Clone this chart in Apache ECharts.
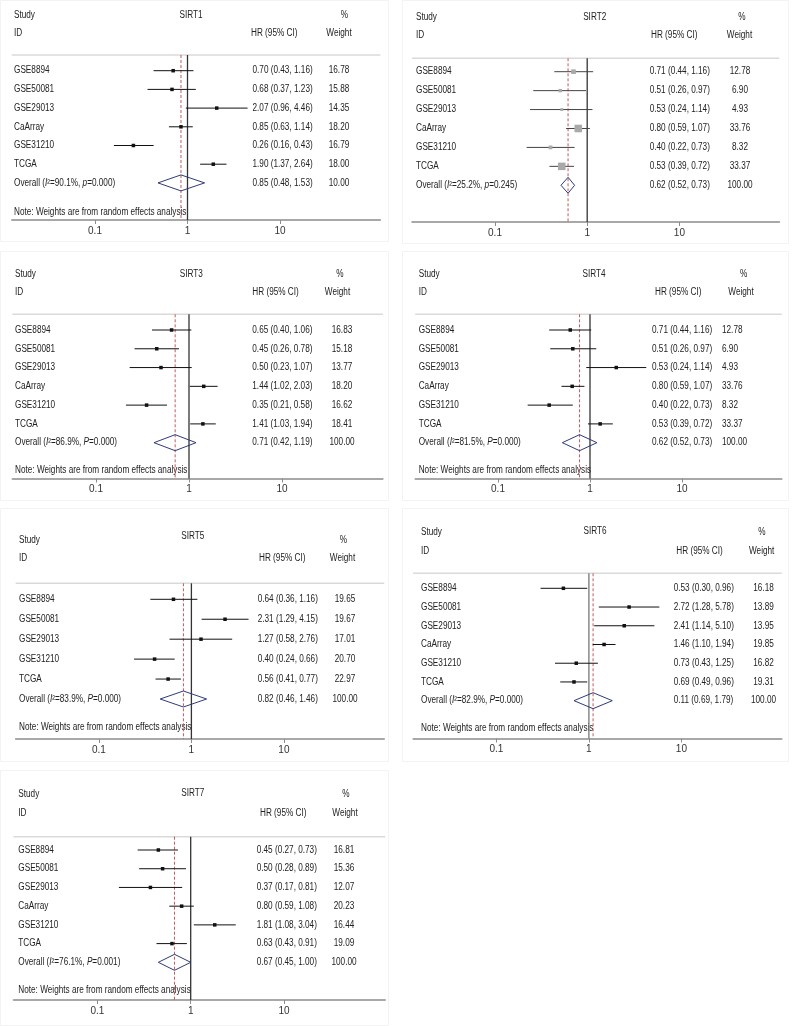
<!DOCTYPE html>
<html><head><meta charset="utf-8">
<script src="https://cdn.jsdelivr.net/npm/echarts@6/dist/echarts.min.js"></script>
<style>html,body{margin:0;padding:0;background:#fff}#c{width:794px;height:1026px}</style>
</head><body><div id="c"></div>
<script>
// ---------------- data ----------------
const studies6 = ['GSE8894','GSE50081','GSE29013','CaArray','GSE31210','TCGA'];
const studies5 = ['GSE8894','GSE50081','GSE29013','GSE31210','TCGA'];
const tickValues = [0.1, 1, 10];
const tickLabels = ['0.1', '1', '10'];

const sirt1Est = [0.70,0.68,2.07,0.85,0.26,1.90];
const sirt1Lo  = [0.43,0.37,0.96,0.63,0.16,1.37];
const sirt1Hi  = [1.16,1.23,4.46,1.14,0.43,2.64];
const sirt1Wt  = [16.78,15.88,14.35,18.20,16.79,18.00];
const sirt1Overall = [0.85,0.48,1.53];
const sirt1OverallWt = 10.00;
const sirt1Het = ['90.1%','p','0.000'];

const sirt2Est = [0.71,0.51,0.53,0.80,0.40,0.53];
const sirt2Lo  = [0.44,0.26,0.24,0.59,0.22,0.39];
const sirt2Hi  = [1.16,0.97,1.14,1.07,0.73,0.72];
const sirt2Wt  = [12.78,6.90,4.93,33.76,8.32,33.37];
const sirt2Overall = [0.62,0.52,0.73];
const sirt2OverallWt = 100.00;
const sirt2Het = ['25.2%','p','0.245'];

const sirt3Est = [0.65,0.45,0.50,1.44,0.35,1.41];
const sirt3Lo  = [0.40,0.26,0.23,1.02,0.21,1.03];
const sirt3Hi  = [1.06,0.78,1.07,2.03,0.58,1.94];
const sirt3Wt  = [16.83,15.18,13.77,18.20,16.62,18.41];
const sirt3Overall = [0.71,0.42,1.19];
const sirt3OverallWt = 100.00;
const sirt3Het = ['86.9%','P','0.000'];

// SIRT4: printed numbers
const sirt4Est = [0.71,0.51,0.53,0.80,0.40,0.53];
const sirt4Lo  = [0.44,0.26,0.24,0.59,0.22,0.39];
const sirt4Hi  = [1.16,0.97,1.14,1.07,0.73,0.72];
const sirt4Wt  = [12.78,6.90,4.93,33.76,8.32,33.37];
const sirt4Overall = [0.62,0.52,0.73];
const sirt4OverallWt = 100.00;
const sirt4Het = ['81.5%','P','0.000'];
// SIRT4: marks as drawn in the picture
const sirt4PlotEst = [0.61,0.65,1.93,0.64,0.36,1.29];
const sirt4PlotLo  = [0.36,0.37,0.91,0.49,0.21,0.95];
const sirt4PlotHi  = [1.03,1.17,4.09,0.87,0.65,1.77];
const sirt4PlotOverall = [0.77,0.50,1.19];

const sirt5Est = [0.64,2.31,1.27,0.40,0.56];
const sirt5Lo  = [0.36,1.29,0.58,0.24,0.41];
const sirt5Hi  = [1.16,4.15,2.76,0.66,0.77];
const sirt5Wt  = [19.65,19.67,17.01,20.70,22.97];
const sirt5Overall = [0.82,0.46,1.46];
const sirt5OverallWt = 100.00;
const sirt5Het = ['83.9%','P','0.000'];

const sirt6Est = [0.53,2.72,2.41,1.46,0.73,0.69];
const sirt6Lo  = [0.30,1.28,1.14,1.10,0.43,0.49];
const sirt6Hi  = [0.96,5.78,5.10,1.94,1.25,0.96];
const sirt6Wt  = [16.18,13.89,13.95,19.85,16.82,19.31];
const sirt6Overall = [0.11,0.69,1.79];
const sirt6OverallWt = 100.00;
const sirt6Het = ['82.9%','P','0.000'];
const sirt6PlotOverall = [1.11,0.69,1.79];

const sirt7Est = [0.45,0.50,0.37,0.80,1.81,0.63];
const sirt7Lo  = [0.27,0.28,0.17,0.59,1.08,0.43];
const sirt7Hi  = [0.73,0.89,0.81,1.08,3.04,0.91];
const sirt7Wt  = [16.81,15.36,12.07,20.23,16.44,19.09];
const sirt7Overall = [0.67,0.45,1.00];
const sirt7OverallWt = 100.00;
const sirt7Het = ['76.1%','P','0.001'];

const noteText = 'Note: Weights are from random effects analysis';

const panels = [
  {title:'SIRT1', studies:studies6, est:sirt1Est, lo:sirt1Lo, hi:sirt1Hi, wt:sirt1Wt, pEst:sirt1Est, pLo:sirt1Lo, pHi:sirt1Hi, overall:sirt1Overall, pOverall:sirt1Overall, overallWt:sirt1OverallWt, het:sirt1Het, note:true, weighted:false},
  {title:'SIRT2', studies:studies6, est:sirt2Est, lo:sirt2Lo, hi:sirt2Hi, wt:sirt2Wt, pEst:sirt2Est, pLo:sirt2Lo, pHi:sirt2Hi, overall:sirt2Overall, pOverall:sirt2Overall, overallWt:sirt2OverallWt, het:sirt2Het, note:false, weighted:true},
  {title:'SIRT3', studies:studies6, est:sirt3Est, lo:sirt3Lo, hi:sirt3Hi, wt:sirt3Wt, pEst:sirt3Est, pLo:sirt3Lo, pHi:sirt3Hi, overall:sirt3Overall, pOverall:sirt3Overall, overallWt:sirt3OverallWt, het:sirt3Het, note:true, weighted:false},
  {title:'SIRT4', studies:studies6, est:sirt4Est, lo:sirt4Lo, hi:sirt4Hi, wt:sirt4Wt, pEst:sirt4PlotEst, pLo:sirt4PlotLo, pHi:sirt4PlotHi, overall:sirt4Overall, pOverall:sirt4PlotOverall, overallWt:sirt4OverallWt, het:sirt4Het, note:true, weighted:false},
  {title:'SIRT5', studies:studies5, est:sirt5Est, lo:sirt5Lo, hi:sirt5Hi, wt:sirt5Wt, pEst:sirt5Est, pLo:sirt5Lo, pHi:sirt5Hi, overall:sirt5Overall, pOverall:sirt5Overall, overallWt:sirt5OverallWt, het:sirt5Het, note:true, weighted:false},
  {title:'SIRT6', studies:studies6, est:sirt6Est, lo:sirt6Lo, hi:sirt6Hi, wt:sirt6Wt, pEst:sirt6Est, pLo:sirt6Lo, pHi:sirt6Hi, overall:sirt6Overall, pOverall:sirt6PlotOverall, overallWt:sirt6OverallWt, het:sirt6Het, note:true, weighted:false},
  {title:'SIRT7', studies:studies6, est:sirt7Est, lo:sirt7Lo, hi:sirt7Hi, wt:sirt7Wt, pEst:sirt7Est, pLo:sirt7Lo, pHi:sirt7Hi, overall:sirt7Overall, pOverall:sirt7Overall, overallWt:sirt7OverallWt, het:sirt7Het, note:true, weighted:false}
];

// ---------------- layout ----------------
const layouts = [
  {one:187.5, dec:92.5, axisY:220,   sep:55,    row0:70.7,  step:18.7,  headY:15.3,  idY:33.7,  titleY:15.3,  noteY:212,   studyX:14,    hrX:252.5, hrHX:251,   wtX:339,   wtAlign:'center', pctX:344.5, wtHX:339,   titleX:191,   nullColor:'#333', box:[0.5,0.5,388,241]},
  {one:587.2, dec:92.2, axisY:222,   sep:58.3,  row0:71.7,  step:18.93, headY:17.3,  idY:35.7,  titleY:17.3,  noteY:null,  studyX:416,   hrX:649.7, hrHX:651,   wtX:740,   wtAlign:'center', pctX:742,   wtHX:739.5, titleX:594.7, nullColor:'#333', box:[402.5,0.5,386,243]},
  {one:189,   dec:93,   axisY:478.5, sep:314.3, row0:330,   step:18.78, headY:274,   idY:292.7, titleY:274,   noteY:470.7, studyX:15,    hrX:252.3, hrHX:252.3, wtX:342,   wtAlign:'center', pctX:340,   wtHX:337.5, titleX:191.3, nullColor:'#333', box:[0.5,251.5,388,249]},
  {one:590,   dec:92,   axisY:478.5, sep:314.3, row0:330,   step:18.78, headY:274,   idY:292.7, titleY:274,   noteY:470.7, studyX:418.7, hrX:652,   hrHX:655,   wtX:722,   wtAlign:'left',   pctX:743.7, wtHX:741,   titleX:594,   nullColor:'#333', box:[402.5,251.5,386,249]},
  {one:191.4, dec:92.5, axisY:739,   sep:583.3, row0:599.3, step:19.94, headY:540,   idY:558.3, titleY:536.7, noteY:727.3, studyX:19,    hrX:257.7, hrHX:259,   wtX:345,   wtAlign:'center', pctX:343.3, wtHX:342.5, titleX:192.8, nullColor:'#333', box:[0.5,508.5,388,253]},
  {one:588.9, dec:92.5, axisY:738.5, sep:573.3, row0:588.3, step:18.73, headY:532.3, idY:551,   titleY:531.7, noteY:728.3, studyX:421,   hrX:673.7, hrHX:676.3, wtX:763.5, wtAlign:'center', pctX:762,   wtHX:761.7, titleX:595,   nullColor:'#777', box:[402.5,508.5,386,253]},
  {one:190.7, dec:93.3, axisY:1000,  sep:836.7, row0:850,   step:18.72, headY:794.3, idY:813.3, titleY:793.3, noteY:990,   studyX:18.3,  hrX:256.7, hrHX:260,   wtX:344,   wtAlign:'center', pctX:346,   wtHX:345,   titleX:192.8, nullColor:'#333', box:[0.5,770.5,388,255]}
];

const LOG_MIN = -1.9, LOG_MAX = 2.085;
const FF = '"Liberation Sans", Arial, Helvetica, sans-serif';
const FS = 10, SX = 0.82, TXT = '#222';
const lg = Math.log10;
const tickLogs = tickValues.map(v => lg(v));

function txt(x, y, text, align, rich) {
  const style = {text: text, x: 0, y: 0, fontSize: FS, fontFamily: FF, fill: TXT,
                 align: align || 'left', verticalAlign: 'middle'};
  if (rich) style.rich = rich;
  return {type: 'text', x: x, y: y, scaleX: SX, silent: true, style: style};
}
function hrText(e, l, h) { return e.toFixed(2) + ' (' + l.toFixed(2) + ', ' + h.toFixed(2) + ')'; }

const grids = [], xAxes = [], yAxes = [], series = [], graphics = [];

panels.forEach((P, i) => {
  const L = layouts[i];
  grids.push({left: L.one - 1.9 * L.dec, top: L.sep, width: (LOG_MAX - LOG_MIN) * L.dec,
              height: L.axisY - L.sep, containLabel: false, outerBoundsMode: 'none'});
  xAxes.push({
    gridIndex: i, type: 'value', min: LOG_MIN, max: LOG_MAX,
    axisLine: {show: true, onZero: false, lineStyle: {color: '#8c8c8c', width: 1.5}},
    axisTick: {show: true, customValues: tickLogs, length: 4, lineStyle: {color: '#8c8c8c', width: 1}},
    axisLabel: {show: true, customValues: tickLogs, margin: 6, fontSize: 10,
      fontFamily: '"Liberation Sans Narrow", "Liberation Sans", Arial, sans-serif', color: '#333',
      formatter: v => { const k = tickLogs.findIndex(t => Math.abs(t - v) < 1e-6); return k >= 0 ? tickLabels[k] : ''; }},
    splitLine: {show: false}
  });
  yAxes.push({gridIndex: i, type: 'value', inverse: true,
              min: (L.sep - L.row0) / L.step, max: (L.axisY - L.row0) / L.step, show: false});

  const nRows = P.studies.length;

  // reference lines: separator, null line (HR=1), dashed overall line
  series.push({
    type: 'custom', xAxisIndex: i, yAxisIndex: i, z: 1, silent: true,
    encode: {x: 0, y: 1},
    data: [[lg(P.pOverall[0]), 0]],
    renderItem: (params, api) => {
      const cs = params.coordSys;
      const x1 = api.coord([0, 0])[0];
      const xd = api.coord([api.value(0), 0])[0];
      return {type: 'group', children: [
        {type: 'line', shape: {x1: cs.x, y1: cs.y, x2: cs.x + cs.width, y2: cs.y}, style: {stroke: '#dadada', lineWidth: 1.5}},
        {type: 'line', shape: {x1: xd, y1: cs.y, x2: xd, y2: cs.y + cs.height}, style: {stroke: '#c25a5a', lineWidth: 1, lineDash: [3, 2]}},
        {type: 'line', shape: {x1: x1, y1: cs.y, x2: x1, y2: cs.y + cs.height}, style: {stroke: L.nullColor, lineWidth: 1.3}}
      ]};
    }
  });

  // studies
  series.push({
    type: 'custom', xAxisIndex: i, yAxisIndex: i, z: 2, silent: true,
    encode: {x: [0, 1, 2], y: 3},
    data: P.pEst.map((e, k) => [lg(e), lg(P.pLo[k]), lg(P.pHi[k]), k]),
    renderItem: (params, api) => {
      const k = params.dataIndex;
      const r = api.value(3);
      const pe = api.coord([api.value(0), r]);
      const pl = api.coord([api.value(1), r]);
      const ph = api.coord([api.value(2), r]);
      const y = pe[1];
      const s = P.weighted ? 1.3 * Math.sqrt(P.wt[k]) : 3.5;
      const children = [
        {type: 'line', shape: {x1: pl[0], y1: y, x2: ph[0], y2: y}, style: {stroke: P.weighted ? '#444' : '#111', lineWidth: 1}},
        {type: 'rect', shape: {x: pe[0] - s / 2, y: y - s / 2, width: s, height: s}, style: {fill: P.weighted ? '#a9a9a9' : '#111'}},
        txt(L.studyX, y, P.studies[k]),
        txt(L.hrX, y, hrText(P.est[k], P.lo[k], P.hi[k])),
        txt(L.wtX, y, P.wt[k].toFixed(2), L.wtAlign)
      ];
      return {type: 'group', children: children};
    }
  });

  // overall diamond
  series.push({
    type: 'custom', xAxisIndex: i, yAxisIndex: i, z: 3, silent: true,
    encode: {x: [0, 1, 2], y: 3},
    data: [[lg(P.pOverall[0]), lg(P.pOverall[1]), lg(P.pOverall[2]), nRows]],
    renderItem: (params, api) => {
      const r = api.value(3);
      const c = api.coord([api.value(0), r]);
      const l = api.coord([api.value(1), r]);
      const h = api.coord([api.value(2), r]);
      const y = c[1], hh = 8;
      const rich = {it: {fontStyle: 'italic', fontSize: FS, fontFamily: FF, fill: TXT}};
      const label = 'Overall ({it|I}\u00B2=' + P.het[0] + ', {it|' + P.het[1] + '}=' + P.het[2] + ')';
      return {type: 'group', children: [
        {type: 'polygon', shape: {points: [[l[0], y], [c[0], y - hh], [h[0], y], [c[0], y + hh]]},
         style: {fill: 'none', stroke: '#2f3a78', lineWidth: 1}},
        txt(L.studyX, y, label, 'left', rich),
        txt(L.hrX, y, hrText(P.overall[0], P.overall[1], P.overall[2])),
        txt(L.wtX, y, P.overallWt.toFixed(2), L.wtAlign)
      ]};
    }
  });

  // panel frame and header texts
  graphics.push({type: 'rect', silent: true, z: -1, shape: {x: L.box[0], y: L.box[1], width: L.box[2], height: L.box[3]},
                 style: {fill: 'none', stroke: '#f3f3f3', lineWidth: 1}});
  graphics.push(txt(L.studyX, L.headY, 'Study'));
  graphics.push(txt(L.titleX, L.titleY, P.title, 'center'));
  graphics.push(txt(L.pctX, L.headY, '%', 'center'));
  graphics.push(txt(L.studyX, L.idY, 'ID'));
  graphics.push(txt(L.hrHX, L.idY, 'HR (95% CI)'));
  graphics.push(txt(L.wtHX, L.idY, 'Weight', 'center'));
  if (P.note && L.noteY != null) graphics.push(txt(L.studyX, L.noteY, noteText));
});

const chart = echarts.init(document.getElementById('c'), null, {renderer: 'canvas'});
chart.setOption({
  animation: false,
  backgroundColor: '#fff',
  grid: grids, xAxis: xAxes, yAxis: yAxes, series: series,
  graphic: {elements: graphics}
});
</script>
</body></html>
